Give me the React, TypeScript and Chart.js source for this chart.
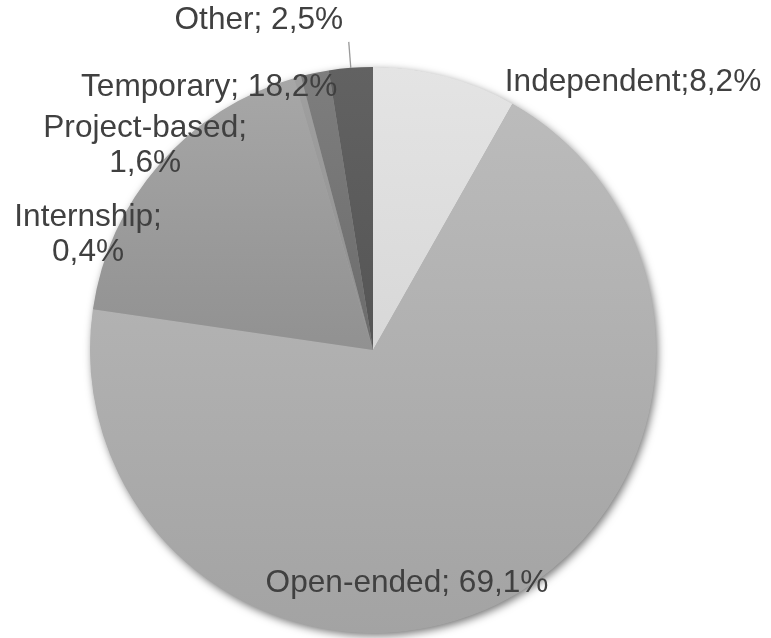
import React, { useEffect, useRef } from "react";
import { Chart, registerables } from "chart.js";

Chart.register(...registerables);

const categories = ["Independent", "Open-ended", "Temporary", "Internship", "Project-based", "Other"];
const values = [8.2, 69.1, 18.2, 0.4, 1.6, 2.5];
const labelTexts = [
  ["Independent;8,2%"],
  ["Open-ended; 69,1%"],
  ["Temporary; 18,2%"],
  ["Internship;", "0,4%"],
  ["Project-based;", "1,6%"],
  ["Other; 2,5%"],
];
// gradient colours (top -> bottom)
const colorsTop = ["#e4e4e4", "#bdbdbd", "#a8a8a8", "#a0a0a0", "#7e7e7e", "#626262"];
const colorsBottom = ["#cbcbcb", "#a3a3a3", "#7a7a7a", "#808080", "#5a5a5a", "#484848"];
// label placement: angle (deg clockwise from top), radius factor
const labelAngle = [44.2, 171.7, 328.1, 292, 311.8, 340.9];
const labelRadius = [1.318, 0.832, 1.095, 1.086, 1.08, 1.233];
const leaderLine = [false, false, false, false, false, true];

const shadowPlugin = {
  id: "pieShadow",
  beforeDatasetsDraw(chart: any) {
    const meta = chart.getDatasetMeta(0);
    const arc = meta.data[0];
    if (!arc) return;
    const { x, y, outerRadius } = arc.getProps(["x", "y", "outerRadius"], true);
    const ctx = chart.ctx;
    ctx.save();
    ctx.shadowColor = "rgba(0,0,0,0.55)";
    ctx.shadowBlur = 9;
    ctx.shadowOffsetX = 2;
    ctx.shadowOffsetY = 3;
    ctx.fillStyle = "#aaaaaa";
    ctx.beginPath();
    ctx.arc(x, y, outerRadius - 0.5, 0, Math.PI * 2);
    ctx.fill();
    ctx.restore();
  },
};

const labelPlugin = {
  id: "pieLabels",
  afterDatasetsDraw(chart: any) {
    const meta = chart.getDatasetMeta(0);
    const ctx = chart.ctx;
    ctx.save();
    ctx.font = "31.6px 'Liberation Sans', Arial, sans-serif";
    ctx.fillStyle = "#404040";
    ctx.textAlign = "center";
    ctx.textBaseline = "middle";
    meta.data.forEach((arc: any, i: number) => {
      const { x, y, outerRadius, startAngle, endAngle } = arc.getProps(
        ["x", "y", "outerRadius", "startAngle", "endAngle"],
        true
      );
      if (leaderLine[i]) {
        const mid = (startAngle + endAngle) / 2;
        ctx.strokeStyle = "#999999";
        ctx.lineWidth = 1.3;
        ctx.beginPath();
        ctx.moveTo(x + Math.cos(mid) * outerRadius, y + Math.sin(mid) * outerRadius);
        ctx.lineTo(x + Math.cos(mid) * outerRadius * 1.092, y + Math.sin(mid) * outerRadius * 1.092);
        ctx.stroke();
      }
      const a = (labelAngle[i] * Math.PI) / 180;
      const r = outerRadius * labelRadius[i];
      const cx = x + Math.sin(a) * r;
      const cy = y - Math.cos(a) * r;
      const lines = labelTexts[i];
      const lh = 35;
      lines.forEach((t, k) => {
        ctx.fillText(t, cx, cy + (k - (lines.length - 1) / 2) * lh);
      });
    });
    ctx.restore();
  },
};

export default function App() {
  const ref = useRef<HTMLCanvasElement | null>(null);
  useEffect(() => {
    if (!ref.current) return;
    const chart = new Chart(ref.current, {
      type: "pie",
      data: {
        labels: categories,
        datasets: [
          {
            data: values,
            borderWidth: 0,
            backgroundColor: (c: any) => {
              const i = c.dataIndex;
              const area = c.chart.chartArea;
              if (!area) return colorsTop[i];
              const g = c.chart.ctx.createLinearGradient(0, area.top, 0, area.bottom);
              g.addColorStop(0, colorsTop[i]);
              g.addColorStop(1, colorsBottom[i]);
              return g;
            },
          },
        ],
      },
      options: {
        responsive: false,
        maintainAspectRatio: false,
        animation: false,
        devicePixelRatio: 1,
        layout: { padding: { left: 90, right: 115, top: 67, bottom: 5 } },
        plugins: { legend: { display: false }, tooltip: { enabled: false } },
      },
      plugins: [shadowPlugin, labelPlugin],
    });
    return () => chart.destroy();
  }, []);
  return (
    <div style={{ position: "fixed", left: 0, top: 0, width: 771, height: 638, background: "#fff" }}>
      <canvas ref={ref} width={771} height={638} />
    </div>
  );
}
